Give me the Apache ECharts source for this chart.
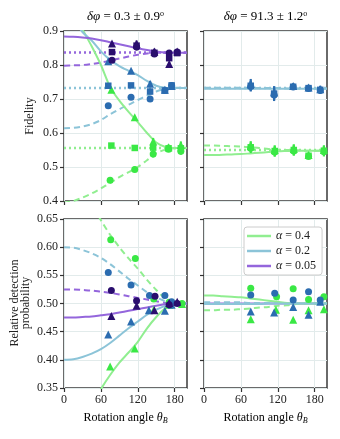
<!DOCTYPE html>
<html>
<head>
<meta charset="utf-8">
<script src="https://cdn.jsdelivr.net/npm/echarts@6/dist/echarts.min.js"></script>
<style>
  html, body { margin: 0; padding: 0; background: #fff; }
  #chart { width: 340px; height: 439px; }
</style>
</head>
<body>
<div id="chart"></div>
<script>
// ---- data ----
const thetaCurve = [0, 15, 30, 45, 60, 75, 90, 105, 120, 135, 150, 165, 180, 200];
const xTicks = [0, 60, 120, 180];

// top-left: fidelity, dphi = 0.3
const tlGreenSolid  = [0.975, 0.955, 0.905, 0.855, 0.800, 0.735, 0.695, 0.662, 0.632, 0.600, 0.572, 0.559, 0.556, 0.556];
const tlGreenDashed = [0.395, 0.400, 0.410, 0.422, 0.437, 0.453, 0.470, 0.485, 0.500, 0.520, 0.540, 0.551, 0.555, 0.556];
const tlGreenDotted = 0.556;
const tlBlueSolid   = [0.950, 0.935, 0.897, 0.872, 0.840, 0.815, 0.797, 0.783, 0.770, 0.753, 0.739, 0.733, 0.732, 0.732];
const tlBlueDashed  = [0.614, 0.615, 0.619, 0.626, 0.638, 0.655, 0.670, 0.683, 0.697, 0.710, 0.722, 0.730, 0.733, 0.733];
const tlBlueDotted  = 0.732;
const tlPurpSolid   = [0.884, 0.883, 0.881, 0.878, 0.873, 0.867, 0.861, 0.855, 0.849, 0.844, 0.840, 0.837, 0.836, 0.836];
const tlPurpDashed  = [0.798, 0.799, 0.800, 0.803, 0.807, 0.813, 0.819, 0.825, 0.830, 0.834, 0.835, 0.836, 0.836, 0.836];
const tlPurpDotted  = 0.837;

// points: [theta, value, error]
const tlNavyTri  = [[78, 0.863, 0.004], [118, 0.862, 0.010], [147, 0.840, 0.008], [171, 0.803, 0.006], [184, 0.840, 0.006]];
const tlNavySq   = [[78, 0.838, 0.004], [118, 0.857, 0.010], [147, 0.836, 0.008], [171, 0.820, 0.008], [184, 0.835, 0.006]];
const tlNavyCirc = [[78, 0.814, 0.004], [118, 0.853, 0.010], [147, 0.832, 0.008], [171, 0.835, 0.006], [184, 0.838, 0.008]];
const tlBlueTri  = [[72, 0.811, 0.004], [109, 0.783, 0.004], [140, 0.745, 0.008], [164, 0.727, 0.006], [175, 0.738, 0.006]];
const tlBlueSq   = [[72, 0.739, 0.004], [109, 0.740, 0.004], [140, 0.722, 0.008], [164, 0.725, 0.006], [175, 0.740, 0.006]];
const tlBlueCirc = [[72, 0.680, 0.008], [109, 0.705, 0.006], [140, 0.700, 0.008], [164, 0.725, 0.006], [175, 0.740, 0.006]];
const tlGreenTri  = [[77, 0.727, 0.004], [115, 0.646, 0.004], [145, 0.575, 0.010], [170, 0.558, 0.008], [190, 0.565, 0.010]];
const tlGreenSq   = [[77, 0.563, 0.004], [115, 0.556, 0.004], [145, 0.557, 0.010], [170, 0.555, 0.008], [190, 0.555, 0.010]];
const tlGreenCirc = [[75, 0.461, 0.008], [115, 0.493, 0.008], [145, 0.538, 0.010], [170, 0.552, 0.008], [190, 0.546, 0.010]];

// top-right: fidelity, dphi = 91.3
const trGreenSolid  = [0.535, 0.535, 0.536, 0.537, 0.538, 0.540, 0.542, 0.544, 0.546, 0.547, 0.548, 0.548, 0.548, 0.548];
const trGreenDashed = [0.563, 0.563, 0.562, 0.561, 0.560, 0.558, 0.556, 0.553, 0.551, 0.550, 0.549, 0.548, 0.548, 0.548];
const trGreenDotted = 0.550;
const trBlueSolid   = [0.730, 0.730, 0.730, 0.730, 0.730, 0.730, 0.730, 0.730, 0.730, 0.730, 0.730, 0.730, 0.730, 0.730];
const trBlueDashed  = [0.733, 0.733, 0.733, 0.733, 0.733, 0.733, 0.732, 0.732, 0.732, 0.731, 0.731, 0.731, 0.731, 0.731];
const trBlueDotted  = 0.732;
const trBlueTri  = [[76, 0.744, 0.015], [114, 0.720, 0.018], [145, 0.738, 0.008], [170, 0.734, 0.008], [189, 0.729, 0.010]];
const trBlueSq   = [[76, 0.739, 0.015], [114, 0.716, 0.018], [145, 0.736, 0.008], [170, 0.732, 0.008], [189, 0.727, 0.010]];
const trBlueCirc = [[76, 0.737, 0.015], [114, 0.712, 0.018], [145, 0.735, 0.008], [170, 0.731, 0.008], [189, 0.725, 0.010]];
const trGreenTri  = [[76, 0.562, 0.014], [115, 0.550, 0.014], [146, 0.553, 0.014], [170, 0.535, 0.008], [195, 0.550, 0.014]];
const trGreenSq   = [[76, 0.558, 0.014], [115, 0.547, 0.014], [146, 0.550, 0.014], [170, 0.533, 0.008], [195, 0.548, 0.014]];
const trGreenCirc = [[76, 0.555, 0.014], [115, 0.544, 0.014], [146, 0.547, 0.014], [170, 0.531, 0.008], [195, 0.545, 0.014]];

// bottom-left: relative detection probability, dphi = 0.3
const blGreenSolid  = [0.260, 0.270, 0.295, 0.320, 0.348, 0.373, 0.395, 0.413, 0.432, 0.456, 0.476, 0.492, 0.500, 0.500];
const blGreenDashed = [0.740, 0.730, 0.705, 0.678, 0.648, 0.622, 0.600, 0.580, 0.562, 0.542, 0.524, 0.509, 0.500, 0.500];
const blBlueSolid   = [0.400, 0.401, 0.405, 0.411, 0.419, 0.430, 0.443, 0.456, 0.468, 0.480, 0.489, 0.496, 0.500, 0.500];
const blBlueDashed  = [0.600, 0.599, 0.595, 0.589, 0.581, 0.570, 0.557, 0.544, 0.532, 0.520, 0.511, 0.504, 0.500, 0.500];
const blPurpSolid   = [0.475, 0.475, 0.476, 0.477, 0.479, 0.481, 0.484, 0.487, 0.490, 0.493, 0.496, 0.499, 0.500, 0.500];
const blPurpDashed  = [0.525, 0.525, 0.524, 0.523, 0.521, 0.519, 0.516, 0.513, 0.510, 0.507, 0.504, 0.501, 0.500, 0.500];
const blGreenCirc = [[76, 0.613], [116, 0.580], [146, 0.508], [171, 0.502], [192, 0.500]];
const blGreenTri  = [[75, 0.388], [115, 0.420], [146, 0.489], [171, 0.498], [192, 0.499]];
const blBlueCirc  = [[72, 0.555], [109, 0.533], [139, 0.514], [164, 0.514], [175, 0.503]];
const blBlueTri   = [[72, 0.445], [109, 0.468], [138, 0.488], [164, 0.487], [175, 0.498]];
const blNavyCirc  = [[77, 0.523], [118, 0.505], [148, 0.513], [171, 0.498], [184, 0.500]];
const blNavyTri   = [[77, 0.478], [118, 0.496], [147, 0.488], [171, 0.501], [184, 0.503]];

// bottom-right: relative detection probability, dphi = 91.3
const brGreenSolid  = [0.514, 0.514, 0.513, 0.512, 0.511, 0.509, 0.507, 0.505, 0.503, 0.501, 0.500, 0.500, 0.500, 0.500];
const brGreenDashed = [0.488, 0.488, 0.489, 0.489, 0.490, 0.491, 0.493, 0.494, 0.496, 0.497, 0.499, 0.500, 0.500, 0.500];
const brBlueSolid   = [0.499, 0.499, 0.499, 0.499, 0.499, 0.499, 0.499, 0.500, 0.500, 0.500, 0.500, 0.500, 0.500, 0.500];
const brBlueDashed  = [0.502, 0.502, 0.502, 0.502, 0.502, 0.501, 0.501, 0.501, 0.501, 0.500, 0.500, 0.500, 0.500, 0.500];
const brPurpSolid   = [0.500, 0.500, 0.500, 0.500, 0.500, 0.500, 0.500, 0.500, 0.500, 0.500, 0.500, 0.500, 0.500, 0.500];
const brGreenCirc = [[76, 0.527], [118, 0.512], [145, 0.526], [170, 0.507], [195, 0.512]];
const brGreenTri  = [[76, 0.472], [117, 0.489], [145, 0.471], [170, 0.488], [195, 0.490]];
const brBlueCirc  = [[76, 0.515], [115, 0.518], [145, 0.506], [170, 0.521], [189, 0.506]];
const brBlueTri   = [[76, 0.486], [114, 0.484], [145, 0.494], [170, 0.480], [189, 0.503]];

const legendNames = ['α = 0.4', 'α = 0.2', 'α = 0.05'];

// ---- styling ----
const FONT = 'Liberation Serif';
const C = {
  gLine: '#90ee90', gPt: '#3ae845',
  bLine: '#8cc4d8', bPt: '#2b6cb0',
  pLine: '#9466dc', pPt: '#2a0e6e'
};
const DASH = [6, 4];
const DOT = [2, 3];

const curve = (gi, vals, color, dash, name) => ({
  type: 'line', name: name, xAxisIndex: gi, yAxisIndex: gi, z: 2,
  data: thetaCurve.map((t, i) => [t, vals[i]]),
  smooth: 0.3, showSymbol: false, symbol: 'none', silent: true, clip: true,
  color: color,
  lineStyle: { color: color, width: 2, type: dash || 'solid' }
});
const flat = (gi, v, color) => ({
  type: 'line', xAxisIndex: gi, yAxisIndex: gi, z: 2,
  data: [[0, v], [200, v]], showSymbol: false, symbol: 'none', silent: true,
  lineStyle: { color: color, width: 2.5, type: DOT }
});
const pts = (gi, data, color, symbol) => ({
  type: 'scatter', xAxisIndex: gi, yAxisIndex: gi, z: 4, silent: true,
  data: data, symbol: symbol,
  symbolSize: symbol === 'triangle' ? 8 : (symbol === 'rect' ? 6.5 : 7),
  itemStyle: { color: color, opacity: 1 }
});
const errs = (gi, data, color) => ({
  type: 'custom', xAxisIndex: gi, yAxisIndex: gi, z: 3, silent: true, clip: true,
  data: data,
  renderItem: (params, api) => {
    const x = api.value(0), y = api.value(1), e = api.value(2);
    const a = api.coord([x, y - e]), b = api.coord([x, y + e]);
    return { type: 'line', shape: { x1: a[0], y1: a[1], x2: b[0], y2: b[1] },
      style: { stroke: color, lineWidth: 2.2 } };
  }
});
const ptsErr = (gi, data, color, symbol) => [errs(gi, data, color), pts(gi, data, color, symbol)];

const xAxisOf = (gi, showLabel) => ({
  gridIndex: gi, type: 'value', min: 0, max: 200, interval: 60,
  axisLine: { show: false },
  axisTick: { show: true, length: 4, customValues: xTicks, lineStyle: { color: '#333', width: 1.2 } },
  axisLabel: { show: showLabel, customValues: xTicks, fontFamily: FONT, fontSize: 12, color: '#222', margin: 6 },
  splitLine: { show: true, lineStyle: { color: '#e2ebeb', width: 1 } }
});
const yAxisOf = (gi, min, max, step, digits, showLabel) => ({
  gridIndex: gi, type: 'value', min: min, max: max, interval: step,
  axisLine: { show: false },
  axisTick: { show: true, length: 4, lineStyle: { color: '#333', width: 1.2 } },
  axisLabel: { show: showLabel, fontFamily: FONT, fontSize: 12, color: '#222', margin: 6,
    formatter: v => v.toFixed(digits) },
  splitLine: { show: true, lineStyle: { color: '#e2ebeb', width: 1 } }
});

const gridBox = { show: true, borderColor: '#3a3a3a', borderWidth: 1.5, backgroundColor: 'transparent' };

const richMath = {
  i: { fontFamily: FONT, fontStyle: 'italic', fontSize: 13, color: '#222' },
  n: { fontFamily: FONT, fontSize: 13, color: '#222' },
  s: { fontFamily: FONT, fontSize: 8, color: '#222', verticalAlign: 'top', padding: [0, 0, 7, 0] },
  xi: { fontFamily: FONT, fontStyle: 'italic', fontSize: 12, color: '#222' },
  xn: { fontFamily: FONT, fontSize: 12, color: '#222' },
  xs: { fontFamily: FONT, fontStyle: 'italic', fontSize: 8, color: '#222', verticalAlign: 'bottom', padding: [5, 0, 0, 0] }
};

const option = {
  backgroundColor: '#ffffff',
  animation: false,
  grid: [
    Object.assign({ left: 64, top: 31, width: 123, height: 170 }, gridBox),
    Object.assign({ left: 204, top: 31, width: 123, height: 170 }, gridBox),
    Object.assign({ left: 64, top: 219, width: 123, height: 169 }, gridBox),
    Object.assign({ left: 204, top: 219, width: 123, height: 169 }, gridBox)
  ],
  xAxis: [xAxisOf(0, false), xAxisOf(1, false), xAxisOf(2, true), xAxisOf(3, true)],
  yAxis: [
    yAxisOf(0, 0.4, 0.9, 0.1, 1, true),
    yAxisOf(1, 0.4, 0.9, 0.1, 1, false),
    yAxisOf(2, 0.35, 0.65, 0.05, 2, true),
    yAxisOf(3, 0.35, 0.65, 0.05, 2, false)
  ],
  legend: {
    left: 244, top: 227, orient: 'vertical', itemGap: 3,
    itemWidth: 24, itemHeight: 2.5, icon: 'rect',
    padding: [3, 6, 3, 3],
    backgroundColor: '#fff', borderColor: '#cccccc', borderWidth: 1, borderRadius: 3,
    data: legendNames,
    formatter: name => '{i|α}{n|' + name.slice(1) + '}',
    textStyle: {
      fontFamily: FONT, fontSize: 12, color: '#222',
      rich: {
        i: { fontFamily: FONT, fontStyle: 'italic', fontSize: 12, color: '#222' },
        n: { fontFamily: FONT, fontSize: 12, color: '#222' }
      }
    }
  },
  graphic: [
    { type: 'text', x: 125.5, y: 17, z: 10,
      style: { text: '{i|δφ}{n| = 0.3 ± 0.9}{s|o}', align: 'center', verticalAlign: 'middle', rich: richMath } },
    { type: 'text', x: 265.5, y: 17, z: 10,
      style: { text: '{i|δφ}{n| = 91.3 ± 1.2}{s|o}', align: 'center', verticalAlign: 'middle', rich: richMath } },
    { type: 'text', x: 30, y: 116, rotation: Math.PI / 2, z: 10,
      style: { text: 'Fidelity', align: 'center', verticalAlign: 'middle', fontFamily: FONT, fontSize: 12, fill: '#222' } },
    { type: 'text', x: 20, y: 303, rotation: Math.PI / 2, z: 10,
      style: { text: 'Relative detection\nprobability', align: 'center', verticalAlign: 'middle',
        fontFamily: FONT, fontSize: 12, lineHeight: 11, fill: '#222' } },
    { type: 'text', x: 125.5, y: 418, z: 10,
      style: { text: '{xn|Rotation angle }{xi|θ}{xs|B}', align: 'center', verticalAlign: 'middle', rich: richMath } },
    { type: 'text', x: 265.5, y: 418, z: 10,
      style: { text: '{xn|Rotation angle }{xi|θ}{xs|B}', align: 'center', verticalAlign: 'middle', rich: richMath } }
  ],
  series: [
    // top-left curves
    flat(0, tlGreenDotted, C.gLine), flat(0, tlBlueDotted, C.bLine), flat(0, tlPurpDotted, C.pLine),
    curve(0, tlGreenDashed, C.gLine, DASH), curve(0, tlBlueDashed, C.bLine, DASH), curve(0, tlPurpDashed, C.pLine, DASH),
    curve(0, tlGreenSolid, C.gLine), curve(0, tlBlueSolid, C.bLine), curve(0, tlPurpSolid, C.pLine),
    ...ptsErr(0, tlGreenCirc, C.gPt, 'circle'), ...ptsErr(0, tlGreenSq, C.gPt, 'rect'), ...ptsErr(0, tlGreenTri, C.gPt, 'triangle'),
    ...ptsErr(0, tlBlueCirc, C.bPt, 'circle'), ...ptsErr(0, tlBlueSq, C.bPt, 'rect'), ...ptsErr(0, tlBlueTri, C.bPt, 'triangle'),
    ...ptsErr(0, tlNavyCirc, C.pPt, 'circle'), ...ptsErr(0, tlNavySq, C.pPt, 'rect'), ...ptsErr(0, tlNavyTri, C.pPt, 'triangle'),
    // top-right curves
    flat(1, trGreenDotted, C.gLine), flat(1, trBlueDotted, C.bLine),
    curve(1, trGreenDashed, C.gLine, DASH), curve(1, trBlueDashed, C.bLine, DASH),
    curve(1, trGreenSolid, C.gLine), curve(1, trBlueSolid, C.bLine),
    ...ptsErr(1, trGreenCirc, C.gPt, 'circle'), ...ptsErr(1, trGreenSq, C.gPt, 'rect'), ...ptsErr(1, trGreenTri, C.gPt, 'triangle'),
    ...ptsErr(1, trBlueCirc, C.bPt, 'circle'), ...ptsErr(1, trBlueSq, C.bPt, 'rect'), ...ptsErr(1, trBlueTri, C.bPt, 'triangle'),
    // bottom-left curves
    curve(2, blGreenDashed, C.gLine, DASH), curve(2, blBlueDashed, C.bLine, DASH), curve(2, blPurpDashed, C.pLine, DASH),
    curve(2, blGreenSolid, C.gLine), curve(2, blBlueSolid, C.bLine), curve(2, blPurpSolid, C.pLine),
    pts(2, blGreenCirc, C.gPt, 'circle'), pts(2, blGreenTri, C.gPt, 'triangle'),
    pts(2, blBlueCirc, C.bPt, 'circle'), pts(2, blBlueTri, C.bPt, 'triangle'),
    pts(2, blNavyCirc, C.pPt, 'circle'), pts(2, blNavyTri, C.pPt, 'triangle'),
    // bottom-right curves (these carry the legend names)
    curve(3, brPurpSolid, C.pLine, null, legendNames[2]),
    curve(3, brGreenDashed, C.gLine, DASH), curve(3, brBlueDashed, C.bLine, DASH),
    curve(3, brGreenSolid, C.gLine, null, legendNames[0]), curve(3, brBlueSolid, C.bLine, null, legendNames[1]),
    pts(3, brGreenCirc, C.gPt, 'circle'), pts(3, brGreenTri, C.gPt, 'triangle'),
    pts(3, brBlueCirc, C.bPt, 'circle'), pts(3, brBlueTri, C.bPt, 'triangle')
  ]
};

const chart = echarts.init(document.getElementById('chart'), null, { renderer: 'canvas' });
chart.setOption(option);
</script>
</body>
</html>
